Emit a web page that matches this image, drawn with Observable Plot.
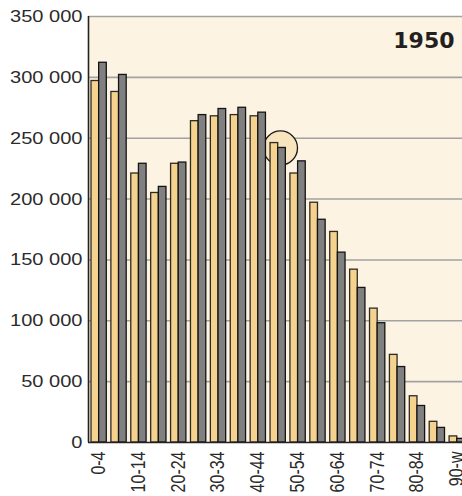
<!DOCTYPE html>
<html>
<head>
<meta charset="utf-8">
<script src="https://cdn.jsdelivr.net/npm/d3@7"></script>
<script src="https://cdn.jsdelivr.net/npm/@observablehq/plot@0.6"></script>
<style>
  html, body { margin: 0; padding: 0; background: #ffffff; overflow: hidden; }
</style>
</head>
<body>
<div id="chart"></div>
<script>
// ---- data ----
const ageGroups = ["0-4","5-9","10-14","15-19","20-24","25-29","30-34","35-39","40-44","45-49",
                   "50-54","55-59","60-64","65-69","70-74","75-79","80-84","85-89","90-w"];
const women = [297000, 288000, 221000, 205000, 229000, 264000, 268000, 269000, 268000, 246000,
               221000, 197000, 173000, 142000, 110000, 72000, 38000, 17000, 5000];
const men   = [312000, 302000, 229000, 210000, 230000, 269000, 274000, 275000, 271000, 242000,
               231000, 183000, 156000, 127000, 98000, 62000, 30000, 12000, 3000];
const xTickLabels = ["0-4","10-14","20-24","30-34","40-44","50-54","60-64","70-74","80-84","90-w"];
const yTicks = [0, 50000, 100000, 150000, 200000, 250000, 300000, 350000];
const yearLabel = "1950";
const highlightGroup = "45-49";

// ---- table ----
const rows = ageGroups.map((g, i) => ({group: g, women: women[i], men: men[i]}));
const highlight = rows.filter(r => r.group === highlightGroup);
const fmt = d => d3.format(",")(d).replace(/,/g, " ");

const xRange = [88, 466];
const step = (xRange[1] - xRange[0]) / ageGroups.length;

const chart = Plot.plot({
  width: 462,
  height: 496,
  marginLeft: 88,
  marginRight: 0,
  marginTop: 16,
  marginBottom: 54,
  style: {background: "#ffffff", color: "#2b2b2b", overflow: "hidden"},
  x: {type: "band", domain: ageGroups, range: xRange, padding: 0, round: false, label: null},
  y: {domain: [0, 350000], label: null},
  marks: [
    Plot.frame({fill: "#fcf3e2", stroke: null}),
    Plot.ruleY(yTicks.filter(d => d > 0), {stroke: "#a2a2a2", strokeWidth: 1.6}),
    Plot.dot(highlight, {x: "group", y: "men", r: 17, dx: 3, fill: "#f8e4bd", stroke: "#1a1a1a", strokeWidth: 1.3}),
    Plot.barY(rows, {x: "group", y: "women", fill: "#f5d28e", stroke: "#2e2a24", strokeWidth: 1.3,
                     insetLeft: 3, insetRight: step - 10.65}),
    Plot.barY(rows, {x: "group", y: "men", fill: "#808080", stroke: "#141414", strokeWidth: 1.3,
                     insetLeft: 10.65, insetRight: 1.6}),
    Plot.ruleY([0], {stroke: "#222", strokeWidth: 1.6}),
    Plot.ruleX([ageGroups[0]], {x: d => d, y1: 0, y2: 350000, dx: -step / 2, stroke: "#222", strokeWidth: 1.6}),
    Plot.axisY({ticks: yTicks, tickFormat: fmt, tickSize: 0, tickPadding: 6, label: null,
                fontFamily: "Liberation Sans", fontSize: 17}),
    Plot.axisX({ticks: xTickLabels, tickRotate: -90, tickSize: 0, tickPadding: 9, label: null,
                fontFamily: "Liberation Sans", fontSize: 16}),
    Plot.text([yearLabel], {text: d => d, frameAnchor: "top-right", textAnchor: "end", lineAnchor: "top",
                            dx: -8, dy: 16, fontFamily: "DejaVu Sans", fontWeight: "bold", fontSize: 22,
                            fill: "#231f20"})
  ]
});

function stretch(selector, sx, sy) {
  d3.select(chart).selectAll(selector).each(function() {
    const t = this.getAttribute("transform");
    if (t) {
      this.setAttribute("transform", t + ` scale(${sx},${sy})`);
    } else {
      const x = +(this.getAttribute("x") || 0), y = +(this.getAttribute("y") || 0);
      this.removeAttribute("x"); this.removeAttribute("y");
      this.setAttribute("transform", `translate(${x},${y}) scale(${sx},${sy})`);
    }
  });
}
stretch('g[aria-label="y-axis tick label"] text', 1.18, 1);
stretch('g[aria-label="x-axis tick label"] text', 1, 1.3);

document.getElementById("chart").appendChild(chart);
</script>
</body>
</html>
